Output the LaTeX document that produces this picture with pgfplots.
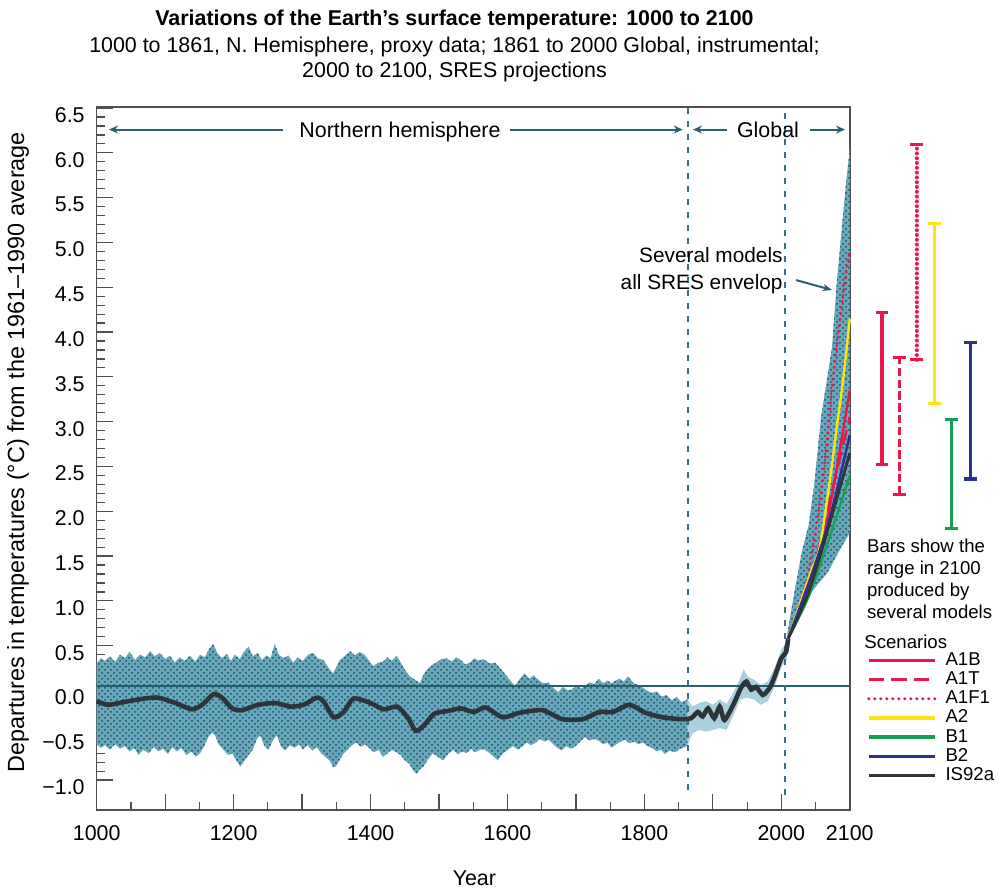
\documentclass[border=0pt]{standalone}
\usepackage{fontspec}
\setmainfont{Liberation Sans}
\usepackage{pgfplots}
\pgfplotsset{compat=1.18}
\usepgfplotslibrary{fillbetween}
\usetikzlibrary{patterns,arrows.meta}

\definecolor{cloud}{RGB}{104,168,188}
\definecolor{clouddot}{RGB}{35,75,95}
\definecolor{instr}{RGB}{170,208,222}
\definecolor{vdash}{RGB}{60,110,140}
\definecolor{zeroline}{RGB}{40,95,110}
\definecolor{curve}{RGB}{45,52,58}
\definecolor{sresred}{RGB}{232,24,78}
\definecolor{sresyel}{RGB}{250,228,20}
\definecolor{sresgrn}{RGB}{20,160,85}
\definecolor{sresblu}{RGB}{40,50,150}
\definecolor{axisgray}{RGB}{80,80,80}
\definecolor{arrowteal}{RGB}{45,95,115}

\begin{document}
\begin{tikzpicture}
\begin{axis}[
  scale only axis, width=376.55pt, height=351.5pt,
  xmin=1000, xmax=2100, ymin=-1.334, ymax=6.512,
  clip=false,
  axis line style={axisgray, line width=0.7pt},
  tick pos=left, tick align=inside,
  major tick length=8pt, minor tick length=4.2pt,
  every tick/.style={axisgray, line width=0.6pt},
  xtick={1000,1100,1200,1300,1400,1500,1600,1700,1800,1900,2000,2100},
  xticklabels={1000,,1200,,1400,,1600,,1800,,2000,2100},
  minor x tick num=1,
  ytick={-1,-0.5,0,0.5,1,1.5,2,2.5,3,3.5,4,4.5,5,5.5,6,6.5},
  yticklabels={−1.0,−0.5,0.0,0.5,1.0,1.5,2.0,2.5,3.0,3.5,4.0,4.5,5.0,5.5,6.0,6.5},
  minor y tick num=4,
  /pgf/number format/assume math mode=true,
  xticklabel style={font=\fontsize{10.7}{12}\selectfont, yshift=-4pt},
  yticklabel style={font=\fontsize{10.7}{12}\selectfont, xshift=-2.5pt, yshift=-3.5pt},
  xlabel={Year},
  xlabel style={at={(rel axis cs:0.5015,-0.0967)}, anchor=center, font=\fontsize{10.7}{12}\selectfont},
  ylabel={Departures in temperatures (°C) from the 1961–1990 average},
  ylabel style={at={(rel axis cs:-0.1045,0.509)}, anchor=center, font=\fontsize{11.7}{13}\selectfont},
  legend style={at={(axis cs:2124.7,0.4475)}, anchor=north west, draw=none, fill=none,
    inner sep=0pt, column sep=4.2pt, row sep=0pt,
    nodes={inner sep=0pt, minimum height=9.6pt, anchor=west},
    font=\fontsize{9.3}{10}\selectfont},
  legend cell align=left,
  legend image code/.code={\draw[#1, line width=1.7pt] (0pt,0pt) -- (33.3pt,0pt);},
]

% ---------- proxy (N. hemisphere) band ----------
\addplot[name path=pu, draw=none, forget plot] coordinates {
(1000,0.30) (1006,0.36) (1012,0.33) (1019,0.38) (1027,0.32) (1034,0.40) (1041,0.36) (1048,0.43)
(1056,0.34) (1063,0.40) (1071,0.37) (1078,0.44) (1085,0.38) (1092,0.42) (1100,0.35) (1107,0.39)
(1114,0.31) (1121,0.37) (1129,0.33) (1136,0.39) (1144,0.32) (1151,0.40) (1158,0.37) (1164,0.46)
(1170,0.52) (1176,0.42) (1183,0.36) (1190,0.41) (1196,0.33) (1202,0.40) (1209,0.35) (1215,0.43)
(1222,0.49) (1228,0.38) (1235,0.42) (1241,0.34) (1248,0.39) (1254,0.36) (1260,0.52) (1266,0.40)
(1273,0.36) (1280,0.39) (1287,0.31) (1294,0.37) (1301,0.33) (1309,0.40) (1316,0.42) (1323,0.36)
(1331,0.34) (1338,0.26) (1345,0.19) (1350,0.26) (1355,0.34) (1362,0.38) (1370,0.44) (1377,0.39)
(1384,0.43) (1391,0.40) (1398,0.33) (1404,0.27) (1411,0.31) (1418,0.32) (1425,0.37) (1431,0.33)
(1438,0.39) (1445,0.30) (1451,0.22) (1457,0.16) (1465,0.12) (1472,0.08) (1477,0.17) (1482,0.23)
(1489,0.28) (1496,0.31) (1503,0.35) (1511,0.36) (1518,0.32) (1525,0.37) (1532,0.34) (1538,0.29)
(1545,0.31) (1552,0.36) (1558,0.33) (1564,0.35) (1567,0.34) (1574,0.30) (1582,0.31) (1589,0.25)
(1596,0.19) (1603,0.12) (1611,0.05) (1618,0.13) (1625,0.19) (1632,0.13) (1638,0.17) (1645,0.12)
(1652,0.08) (1660,0.09) (1667,0.03) (1674,-0.02) (1681,0.04) (1688,0.00) (1694,0.01) (1701,0.06)
(1707,0.02) (1713,0.05) (1720,0.09) (1727,0.07) (1733,0.13) (1740,0.08) (1746,0.11) (1752,0.08)
(1758,0.11) (1764,0.13) (1770,0.10) (1776,0.16) (1783,0.09) (1790,0.06) (1796,0.04) (1803,0.00)
(1811,-0.03) (1818,-0.01) (1825,-0.07) (1832,-0.05) (1840,-0.11) (1847,-0.07) (1854,-0.13) (1863,-0.10)
};
\addplot[name path=pl, draw=none, forget plot] coordinates {
(1000,-0.60) (1006,-0.64) (1012,-0.61) (1019,-0.66) (1027,-0.60) (1034,-0.65) (1041,-0.62) (1048,-0.68)
(1055,-0.64) (1061,-0.72) (1068,-0.66) (1076,-0.70) (1083,-0.63) (1090,-0.68) (1097,-0.65) (1104,-0.71)
(1110,-0.63) (1117,-0.68) (1124,-0.64) (1131,-0.72) (1138,-0.68) (1145,-0.74) (1151,-0.70) (1157,-0.62)
(1163,-0.52) (1168,-0.47) (1173,-0.50) (1178,-0.60) (1185,-0.66) (1192,-0.72) (1198,-0.70) (1204,-0.78)
(1210,-0.85) (1216,-0.78) (1222,-0.72) (1228,-0.66) (1234,-0.54) (1239,-0.50) (1245,-0.62) (1251,-0.66)
(1257,-0.56) (1263,-0.50) (1269,-0.62) (1275,-0.67) (1282,-0.61) (1289,-0.64) (1296,-0.60) (1301,-0.66)
(1308,-0.61) (1315,-0.67) (1321,-0.63) (1328,-0.70) (1334,-0.74) (1340,-0.78) (1346,-0.86) (1350,-0.84)
(1356,-0.76) (1361,-0.70) (1367,-0.66) (1373,-0.61) (1379,-0.58) (1386,-0.63) (1392,-0.60) (1399,-0.65)
(1405,-0.69) (1412,-0.66) (1418,-0.74) (1425,-0.70) (1431,-0.66) (1438,-0.69) (1444,-0.72) (1450,-0.78)
(1457,-0.82) (1462,-0.89) (1467,-0.93) (1472,-0.88) (1477,-0.85) (1484,-0.77) (1491,-0.70) (1498,-0.74)
(1506,-0.78) (1513,-0.71) (1521,-0.66) (1527,-0.71) (1534,-0.68) (1540,-0.70) (1547,-0.65) (1553,-0.69)
(1560,-0.66) (1567,-0.66) (1574,-0.70) (1580,-0.74) (1586,-0.78) (1592,-0.71) (1601,-0.66) (1608,-0.62)
(1615,-0.66) (1621,-0.63) (1628,-0.58) (1634,-0.61) (1640,-0.59) (1647,-0.54) (1654,-0.57) (1660,-0.55)
(1667,-0.60) (1673,-0.64) (1679,-0.67) (1686,-0.62) (1692,-0.65) (1698,-0.63) (1705,-0.58) (1713,-0.52)
(1720,-0.56) (1727,-0.54) (1733,-0.56) (1740,-0.60) (1746,-0.58) (1752,-0.64) (1759,-0.60) (1765,-0.57)
(1772,-0.55) (1778,-0.59) (1785,-0.57) (1791,-0.60) (1798,-0.58) (1804,-0.62) (1811,-0.64) (1818,-0.68)
(1824,-0.66) (1830,-0.71) (1837,-0.67) (1845,-0.69) (1852,-0.65) (1863,-0.62)
};
\addplot[cloud, forget plot] fill between[of=pu and pl];
\addplot[pattern=crosshatch dots, pattern color=clouddot, forget plot] fill between[of=pu and pl];

% ---------- instrumental band ----------
\addplot[name path=iu, draw=none, forget plot] coordinates {
(1863,-0.10) (1870,-0.18) (1880,-0.14) (1890,-0.12) (1900,-0.16) (1910,-0.10) (1920,-0.15) (1930,-0.02)
(1940,0.14) (1945,0.24) (1950,0.16) (1960,0.12) (1970,0.06) (1980,0.10) (1990,0.25) (2000,0.45) (2008,0.55)
};
\addplot[name path=il, draw=none, forget plot] coordinates {
(1863,-0.62) (1870,-0.48) (1880,-0.44) (1890,-0.46) (1900,-0.44) (1910,-0.42) (1920,-0.44) (1930,-0.28)
(1940,-0.10) (1950,-0.08) (1960,-0.10) (1970,-0.16) (1980,-0.12) (1990,0.04) (2000,0.26) (2008,0.35)
};
\addplot[instr, forget plot] fill between[of=iu and il];

% ---------- SRES envelope ----------
\addplot[name path=eu, draw=none, forget plot] coordinates {
(2008,0.60) (2018,1.05) (2030,1.55) (2040,1.85) (2048,2.30) (2058,3.05) (2074,3.83) (2081,4.55) (2090,5.30) (2095,5.70) (2100,6.05)
};
\addplot[name path=el, draw=none, forget plot] coordinates {
(2008,0.52) (2017,0.72) (2030,0.92) (2042,1.08) (2055,1.20) (2068,1.32) (2084,1.55) (2100,1.76)
};
\addplot[cloud, forget plot] fill between[of=eu and el];
\addplot[pattern=crosshatch dots, pattern color=clouddot, forget plot] fill between[of=eu and el];

% ---------- reference lines ----------
\addplot[zeroline, line width=0.8pt, forget plot] coordinates {(1000,0.05) (2100,0.05)};
\addplot[vdash, line width=1pt, dash pattern=on 3pt off 3.5pt, forget plot] coordinates {(1864,-1.11) (1864,6.51)};
\addplot[vdash, line width=1pt, dash pattern=on 3pt off 3.5pt, forget plot] coordinates {(2005,-1.17) (2005,6.51)};

% ---------- smoothed record ----------
\addplot[curve, line width=2.3pt, smooth, tension=0.4, forget plot] coordinates {
(1000,-0.12) (1017,-0.16) (1046,-0.12) (1070,-0.09) (1090,-0.08) (1115,-0.14) (1139,-0.21) (1154,-0.16)
(1171,-0.04) (1183,-0.08) (1198,-0.20) (1212,-0.22) (1236,-0.16) (1261,-0.14) (1283,-0.18) (1302,-0.16)
(1322,-0.08) (1332,-0.13) (1346,-0.30) (1361,-0.24) (1375,-0.09) (1400,-0.14) (1419,-0.21) (1439,-0.18)
(1454,-0.30) (1466,-0.45) (1478,-0.39) (1493,-0.26) (1512,-0.23) (1532,-0.20) (1551,-0.24) (1568,-0.19)
(1593,-0.30) (1617,-0.25) (1651,-0.22) (1680,-0.32) (1710,-0.32) (1734,-0.24) (1754,-0.24) (1778,-0.16)
(1802,-0.25) (1827,-0.30) (1853,-0.32) (1868,-0.31) (1878,-0.24) (1885,-0.29) (1893,-0.20) (1902,-0.31)
(1910,-0.18) (1917,-0.33) (1931,-0.14) (1941,0.03) (1949,0.10) (1956,0.01) (1963,0.04) (1973,-0.05)
(1983,0.03) (1990,0.15) (2000,0.36) (2007,0.43) (2010,0.58)
};

% ---------- SRES scenario projections ----------
\addplot[sresred, line width=1.2pt, smooth, tension=0.5] coordinates {(2010,0.58) (2040,1.20) (2059,1.60) (2078,2.35) (2100,3.35)};
\addlegendentry{A1B}
\addplot[sresred, line width=1.2pt, smooth, tension=0.5, dash pattern=on 7.8pt off 3.4pt] coordinates {(2010,0.58) (2040,1.15) (2070,2.10) (2100,3.05)};
\addlegendentry{A1T}
\addplot[sresred, line width=1.7pt, smooth, tension=0.5, line cap=round, dash pattern=on 0pt off 3pt] coordinates {(2010,0.58) (2037,1.23) (2054,1.98) (2066,2.72) (2075,3.46) (2093,4.58) (2100,4.90)};
\addlegendentry{A1F1}
\addplot[sresyel, line width=1.2pt, smooth, tension=0.5] coordinates {(2010,0.58) (2042,1.30) (2056,1.60) (2071,2.35) (2082,3.00) (2090,3.45) (2100,4.15)};
\addlegendentry{A2}
\addplot[sresgrn, line width=1.2pt, smooth, tension=0.5] coordinates {(2010,0.58) (2040,1.05) (2070,1.70) (2100,2.40)};
\addlegendentry{B1}
\addplot[sresblu, line width=1.2pt, smooth, tension=0.5] coordinates {(2010,0.58) (2040,1.20) (2066,1.80) (2080,2.20) (2100,2.85)};
\addlegendentry{B2}
\addplot[curve, line width=1.4pt, smooth, tension=0.5] coordinates {(2010,0.58) (2040,1.10) (2070,1.85) (2100,2.65)};
\addlegendentry{IS92a}

% ---------- range bars in 2100 ----------
\addplot[sresred, line width=1.6pt, mark=-, mark size=3.2pt, forget plot] coordinates {(2147,2.52) (2147,4.22)};
\addplot[sresred, line width=1.6pt, dash pattern=on 4.2pt off 1.7pt, mark=-, mark size=3.2pt, mark options={solid}, forget plot] coordinates {(2173,2.19) (2173,3.72)};
\addplot[sresred, line width=2pt, line cap=round, dash pattern=on 0pt off 2.4pt, mark=-, mark size=3.2pt, mark options={solid, line cap=butt, line width=1.6pt}, forget plot] coordinates {(2198,3.69) (2198,6.09)};
\addplot[sresyel, line width=1.6pt, mark=-, mark size=3.2pt, forget plot] coordinates {(2224,3.20) (2224,5.21)};
\addplot[sresgrn, line width=1.6pt, mark=-, mark size=3.2pt, forget plot] coordinates {(2249,1.81) (2249,3.02)};
\addplot[sresblu, line width=1.6pt, mark=-, mark size=3.2pt, forget plot] coordinates {(2276,2.36) (2276,3.88)};

% ---------- annotations ----------
\node[anchor=base, font=\fontsize{10.7}{12}\selectfont, inner sep=0pt] at (axis cs:1443,6.17) {Northern hemisphere};
\draw[arrowteal, line width=1pt, -{Stealth[length=4.5pt,width=4pt]}] (axis cs:1272,6.26) -- (axis cs:1018,6.26);
\draw[arrowteal, line width=1pt, -{Stealth[length=4.5pt,width=4pt]}] (axis cs:1604,6.26) -- (axis cs:1856,6.26);
\node[anchor=base, font=\fontsize{10.7}{12}\selectfont, inner sep=0pt] at (axis cs:1980.5,6.17) {Global};
\draw[arrowteal, line width=1pt, -{Stealth[length=4.5pt,width=4pt]}] (axis cs:1921,6.26) -- (axis cs:1871,6.26);
\draw[arrowteal, line width=1pt, -{Stealth[length=4.5pt,width=4pt]}] (axis cs:2042,6.26) -- (axis cs:2093,6.26);
\node[anchor=north east, align=right, inner sep=0pt, font=\fontsize{10.4}{13.3}\selectfont] at (axis cs:2002.4,4.944) {Several models\\all SRES envelop};
\draw[arrowteal, line width=1pt, -{Stealth[length=4.5pt,width=3.5pt]}] (axis cs:2021.6,4.58) -- (axis cs:2073.7,4.47);
\node[anchor=north west, align=left, inner sep=0pt, font=\fontsize{9.3}{11.1}\selectfont] at (axis cs:2124.7,1.699) {Bars show the\\range in 2100\\produced by\\several models};
\node[anchor=west, inner sep=0pt, font=\fontsize{9.3}{11}\selectfont] at (axis cs:2120.8,0.545) {Scenarios};

% ---------- titles ----------
\node[anchor=base, inner sep=0pt, font=\bfseries\fontsize{10.7}{12}\selectfont] at (axis cs:1522.6,7.42) {Variations of the Earth’s surface temperature: 1000 to 2100};
\node[anchor=base, inner sep=0pt, font=\fontsize{10.7}{12}\selectfont] at (axis cs:1522.6,7.118) {1000 to 1861, N. Hemisphere, proxy data; 1861 to 2000 Global, instrumental;};
\node[anchor=base, inner sep=0pt, font=\fontsize{10.7}{12}\selectfont] at (axis cs:1522.6,6.84) {2000 to 2100, SRES projections};
\end{axis}
\pgfresetboundingbox
\path[use as bounding box] (-48.35pt,-39.5pt) rectangle (453.15pt,405pt);
\end{tikzpicture}
\end{document}
